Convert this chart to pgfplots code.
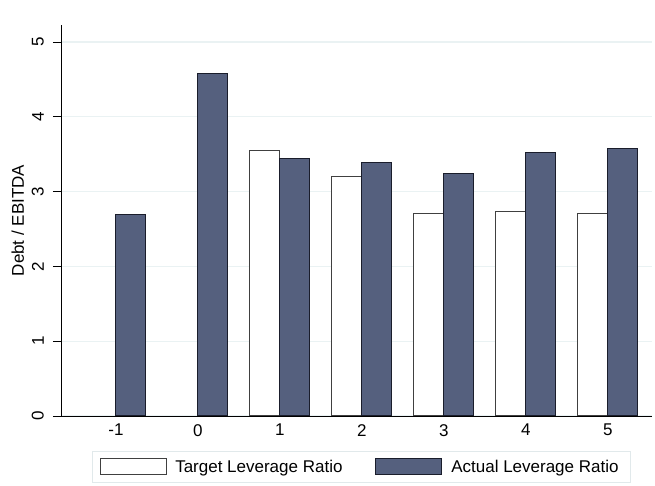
\documentclass[border=0pt]{standalone}
\usepackage{pgfplots}
\pgfplotsset{compat=1.18}
\usepackage{fontspec}
\setmainfont{Liberation Sans}
\definecolor{barblue}{RGB}{85,96,126}
\definecolor{baredge}{RGB}{26,29,43}
\definecolor{gridc}{RGB}{234,242,243}
\definecolor{legc}{RGB}{225,233,235}
\newcommand{\fs}{\fontsize{17}{20}\selectfont}
\begin{document}
\begin{tikzpicture}[x=1pt,y=1pt]
\begin{axis}[
  scale only axis,
  width=591pt, height=391pt,
  xmin=-1.67, xmax=5.537,
  ymin=0, ymax=5.227,
  ybar=0pt, bar width=30pt,
  axis x line*=bottom, axis y line*=left,
  axis line style={-, black, line width=0.8pt},
  xtick={-1,0,1,2,3,4,5},
  xticklabels={-1,0,1,2,3,4,5},
  x tick style={draw=none},
  ytick={0,1,2,3,4,5},
  yticklabels={0,1,2,3,4,5},
  tick align=outside,
  y tick style={black, line width=0.8pt},
  major tick length=8pt,
  tick label style={font=\fs},
  yticklabel style={rotate=90, anchor=south, inner sep=9pt},
  xticklabel style={inner sep=0pt},
  ymajorgrids,
  grid style={gridc, line width=1.2pt},
  ylabel={Debt / EBITDA},
  ylabel style={font=\fs, at={(axis description cs:-0.073,0.5)}, anchor=center},
  legend columns=2,
  legend style={at={(axis description cs:0.5085,-0.0895)}, anchor=north,
    draw=legc, line width=0.8pt, font=\fs, inner xsep=8pt, inner ysep=6.5pt},
  legend image code/.code={
    \draw[#1, line width=0.8pt] (0pt,-8pt) rectangle (66pt,8pt);},
]
\addplot[fill=white, draw=black!75, line width=1pt] coordinates {
  (1,3.55) (2,3.20) (3,2.71) (4,2.73) (5,2.71)};
\addlegendentry{\rule{6pt}{0pt}Target Leverage Ratio\rule{30pt}{0pt}}
\addplot[fill=barblue, draw=baredge, line width=1pt] coordinates {
  (-1,2.70) (0,4.58) (1,3.44) (2,3.39) (3,3.24) (4,3.52) (5,3.57)};
\addlegendentry{\rule{8pt}{0pt}Actual Leverage Ratio\rule{2pt}{0pt}}
\end{axis}
\pgfresetboundingbox
\path (-61pt,-70pt) rectangle (594pt,416pt);
\end{tikzpicture}
\end{document}
